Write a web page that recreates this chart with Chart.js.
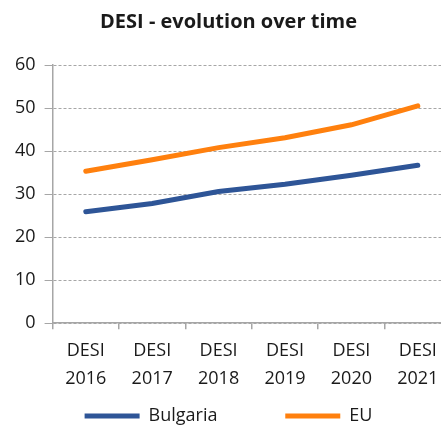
<!DOCTYPE html>
<html>
<head>
<meta charset="utf-8">
<script src="https://cdn.jsdelivr.net/npm/chart.js@4"></script>
<style>
  html, body { margin: 0; padding: 0; background: #fff; overflow: hidden; }
  .wrap { position: absolute; left: 0; top: 0; width: 464px; height: 425px; }
</style>
</head>
<body>
<div class="wrap"><canvas id="desiChart"></canvas></div>
<script>
// Data
const years = [["DESI", "2016"], ["DESI", "2017"], ["DESI", "2018"], ["DESI", "2019"], ["DESI", "2020"], ["DESI", "2021"]];
const bulgaria = [25.9, 27.8, 30.6, 32.3, 34.4, 36.7];
const eu = [35.3, 38.0, 40.8, 43.1, 46.1, 50.5];
const yTicks = [0, 10, 20, 30, 40, 50, 60];

const font = "'Open Sans', 'Noto Sans', sans-serif";
const grey = "#a6a6a6";
const textColor = "#1a1a1a";

const ctx = document.getElementById("desiChart").getContext("2d");
new Chart(ctx, {
  type: "line",
  data: {
    labels: years,
    datasets: [
      {
        label: "Bulgaria",
        data: bulgaria,
        borderColor: "#2e5597",
        backgroundColor: "#2e5597",
        borderWidth: 5,
        borderCapStyle: "round",
        pointRadius: 0,
        tension: 0,
      },
      {
        label: "EU",
        data: eu,
        borderColor: "#ff800e",
        backgroundColor: "#ff800e",
        borderWidth: 5,
        borderCapStyle: "round",
        pointRadius: 0,
        tension: 0,
      },
    ],
  },
  options: {
    responsive: true,
    maintainAspectRatio: false,
    animation: false,
    layout: { padding: { left: 6, right: 13, top: 2, bottom: -10 } },
    plugins: {
      title: {
        display: true,
        text: "DESI - evolution over time",
        color: textColor,
        font: { family: font, size: 20, weight: "bold" },
        padding: { top: 8, bottom: 31 },
      },
      legend: {
        position: "bottom",
        labels: {
          usePointStyle: true,
          pointStyle: "line",
          pointStyleWidth: 55,
          boxHeight: 10,
          padding: 6,
          color: textColor,
          font: { family: font, size: 18 },
          // extra gap after the first item, like the original legend
          generateLabels: (chart) => {
            const items = Chart.defaults.plugins.legend.labels.generateLabels(chart);
            items[0].text += "\u2003\u2003\u2003\u2009\u2009\u200A";
            return items;
          },
        },
      },
      tooltip: { enabled: false },
    },
    scales: {
      x: {
        offset: true,
        grid: {
          offset: true,
          drawOnChartArea: false,
          drawTicks: true,
          tickLength: 6,
          color: grey,
          lineWidth: 1.5,
        },
        border: { color: grey, width: 1.5 },
        ticks: {
          color: textColor,
          font: { family: font, size: 18, lineHeight: 1.55 },
          padding: 8,
          maxRotation: 0,
          autoSkip: false,
        },
      },
      y: {
        min: 0,
        max: 60,
        afterBuildTicks: (axis) => {
          axis.ticks = yTicks.map((v) => ({ value: v }));
        },
        grid: {
          color: grey,
          tickLength: 8,
          drawTicks: true,
        },
        border: { color: grey, width: 1.5, dash: [3, 2] },
        ticks: {
          color: textColor,
          font: { family: font, size: 18 },
          padding: 9,
        },
      },
    },
  },
});
</script>
</body>
</html>
